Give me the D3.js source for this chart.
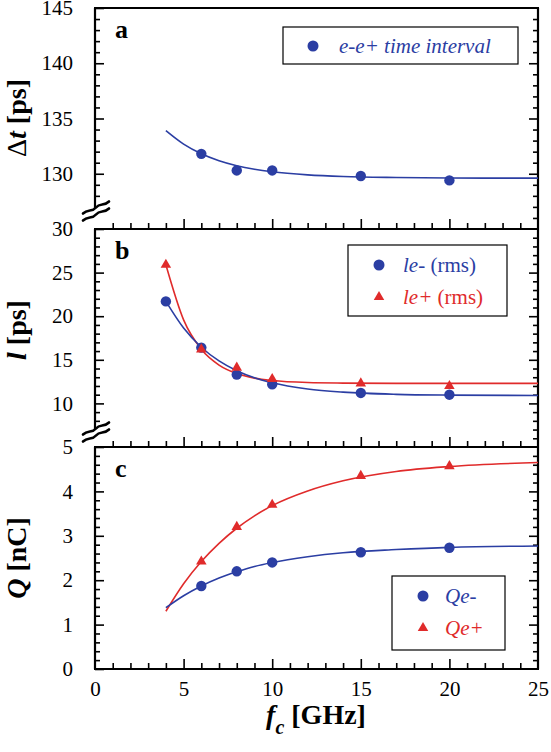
<!DOCTYPE html>
<html><head><meta charset="utf-8">
<script src="https://cdn.jsdelivr.net/npm/d3@7"></script>
<style>body{margin:0;background:#fff} svg{display:block}</style>
</head><body>
<svg id="chart" width="551" height="752"></svg>
<script>
// ---------- data ----------
const fitX = [4,5,6,7,8,9,10,12,14,17,20,25];

const dtX = [6,8,10,15,20];
const dtValues = [131.8,130.3,130.3,129.8,129.4];
const dtFit = [133.9,132.68,131.81,131.18,130.73,130.41,130.18,129.90,129.75,129.66,129.62,129.60];

const leX = [4,6,8,10,15,20];
const leMinus = [21.7,16.4,13.3,12.2,11.2,11.0];
const lePlus = [25.9,16.2,14.1,12.8,12.3,12.0];
const leMinusFit = [21.7,18.64,16.44,14.87,13.75,12.94,12.36,11.65,11.29,11.04,10.95,10.9];
const lePlusFit = [25.9,19.58,16.20,14.39,13.42,12.90,12.62,12.39,12.33,12.30,12.30,12.30];

const qX = [6,8,10,15,20];
const qMinus = [1.87,2.2,2.4,2.63,2.73];
const qPlus = [2.42,3.2,3.7,4.35,4.57];
const qMinusFit = [1.38,1.65,1.87,2.05,2.19,2.31,2.40,2.53,2.62,2.69,2.74,2.77];
const qPlusFit = [1.3,1.92,2.42,2.83,3.17,3.45,3.68,4.01,4.24,4.45,4.56,4.65];

const xTicksMajor = [0,5,10,15,20,25];
const aTicksMajor = [130,135,140,145];
const bTicksMajor = [10,15,20,25,30];
const cTicksMajor = [0,1,2,3,4,5];

// ---------- layout ----------
const BLUE = "#2b3ea3", RED = "#e02b2b";
const FONT = "Liberation Serif";
const L = 95, R = 538;
const svg = d3.select("#chart");

const x = d3.scaleLinear().domain([0,25]).range([L,R]);
const xMinor = d3.range(0,26,1);

const panels = [
  {key:"a", top:8,   bottom:229, domain:[125,145], major:aTicksMajor, minorStep:1, brk:211, label:"a"},
  {key:"b", top:229, bottom:447, domain:[5,30],    major:bTicksMajor, minorStep:1, brk:432, label:"b"},
  {key:"c", top:447, bottom:669, domain:[0,5],     major:cTicksMajor, minorStep:0.2, brk:null, label:"c"}
];
panels.forEach(p => {
  p.y = d3.scaleLinear().domain(p.domain).range([p.bottom, p.top]);
});

function axisStyle(g){
  g.attr("font-family", FONT).attr("font-size", 21);
  g.select(".domain").remove();
  g.selectAll(".tick line").attr("stroke","#000").attr("stroke-width",1.6);
  g.selectAll(".tick text").attr("font-family", FONT).attr("font-size",21).attr("fill","#000");
}

panels.forEach(p => {
  const lo = p.domain[0], hi = p.domain[1];
  const minor = d3.range(lo, hi + 1e-9, p.minorStep).map(v => +v.toFixed(3))
     .filter(v => !p.major.some(m => Math.abs(m - v) < 1e-6));
  const leftLimit = p.brk ? p.brk - 5 : p.bottom;
  const minorLeft = minor.filter(v => p.y(v) < leftLimit && p.y(v) > p.top + 1);
  const minorRight = minor.filter(v => p.y(v) < p.bottom - 1 && p.y(v) > p.top + 1);

  svg.append("g").attr("transform",`translate(${L},0)`)
    .call(d3.axisLeft(p.y).tickValues(minorLeft).tickSize(-5).tickFormat(""))
    .call(axisStyle);
  svg.append("g").attr("transform",`translate(${L},0)`)
    .call(d3.axisLeft(p.y).tickValues(p.major).tickSize(-9).tickPadding(22).tickFormat(d3.format("d")))
    .call(axisStyle);
  svg.append("g").attr("transform",`translate(${R},0)`)
    .call(d3.axisRight(p.y).tickValues(minorRight).tickSize(-5).tickFormat(""))
    .call(axisStyle);
  svg.append("g").attr("transform",`translate(${R},0)`)
    .call(d3.axisRight(p.y).tickValues(p.major.filter(v => p.y(v) < p.bottom - 1 && p.y(v) > p.top + 1)).tickSize(-9).tickFormat(""))
    .call(axisStyle);
  svg.append("g").attr("transform",`translate(0,${p.bottom})`)
    .call(d3.axisBottom(x).tickValues(xMinor.filter(v => v % 5 !== 0)).tickSize(-6).tickFormat(""))
    .call(axisStyle);
  if (p.key === "c") {
    svg.append("g").attr("transform",`translate(0,${p.bottom})`)
      .call(d3.axisBottom(x).tickValues(xTicksMajor).tickSize(0).tickPadding(12).tickFormat(d3.format("d")))
      .call(axisStyle);
  }
  svg.append("g").attr("transform",`translate(0,${p.bottom})`)
    .call(d3.axisBottom(x).tickValues(xTicksMajor.filter(v => v>0 && v<25)).tickSize(-10).tickFormat(""))
    .call(axisStyle);

  svg.append("line").attr("x1",L).attr("x2",L).attr("y1",p.top).attr("y2",leftLimit + (p.brk?2:0))
    .attr("stroke","#000").attr("stroke-width",2.2);
  svg.append("line").attr("x1",L-1).attr("x2",R+1).attr("y1",p.bottom).attr("y2",p.bottom)
    .attr("stroke","#000").attr("stroke-width",2.2);

  if (p.brk) {
    const g = svg.append("g").attr("transform",`translate(${L+1},${p.brk})`);
    [-3.5, 3.5].forEach(off => {
      g.append("path")
        .attr("d",`M-13,${6+off} C-8,${1+off} -4,${5+off} 0,${0+off} C4,${-5+off} 8,${-1+off} 13,${-6+off}`)
        .attr("fill","none").attr("stroke","#000").attr("stroke-width",2.6).attr("stroke-linecap","round");
    });
  }

  svg.append("text").attr("x",115).attr("y",p.top+30).text(p.label)
    .attr("font-family",FONT).attr("font-weight","bold").attr("font-size",26);
});

svg.append("line").attr("x1",L-1).attr("x2",R+1).attr("y1",8).attr("y2",8).attr("stroke","#000").attr("stroke-width",2.2);
svg.append("line").attr("x1",R).attr("x2",R).attr("y1",8).attr("y2",669).attr("stroke","#000").attr("stroke-width",2.2);

// ---------- data marks ----------
const pa = panels[0], pb = panels[1], pc = panels[2];
function curve(p, xs, ys, color){
  svg.append("path")
    .datum(xs.map((v,i)=>[v, ys[i]]))
    .attr("d", d3.line().x(d=>x(d[0])).y(d=>p.y(d[1])).curve(d3.curveMonotoneX))
    .attr("fill","none").attr("stroke",color).attr("stroke-width",1.6);
}
function dots(p, xs, ys, color){
  svg.append("g").selectAll("circle").data(xs.map((v,i)=>[v,ys[i]])).join("circle")
    .attr("cx",d=>x(d[0])).attr("cy",d=>p.y(d[1])).attr("r",5.2).attr("fill",color);
}
const tri = d3.symbol().type(d3.symbolTriangle).size(48);
function tris(p, xs, ys, color){
  svg.append("g").selectAll("path").data(xs.map((v,i)=>[v,ys[i]])).join("path")
    .attr("transform",d=>`translate(${x(d[0])},${p.y(d[1])})`).attr("d",tri).attr("fill",color);
}

curve(pa, fitX, dtFit, BLUE);
dots(pa, dtX, dtValues, BLUE);

curve(pb, fitX, lePlusFit, RED);
curve(pb, fitX, leMinusFit, BLUE);
dots(pb, leX, leMinus, BLUE);
tris(pb, leX, lePlus, RED);

curve(pc, fitX, qPlusFit, RED);
curve(pc, fitX, qMinusFit, BLUE);
dots(pc, qX, qMinus, BLUE);
tris(pc, qX, qPlus, RED);

// ---------- legends ----------
function box(x0,y0,x1,y1){
  svg.append("rect").attr("x",x0).attr("y",y0).attr("width",x1-x0).attr("height",y1-y0)
    .attr("fill","#fff").attr("stroke","#000").attr("stroke-width",1.2);
}
function legText(xp, yp, parts, color){
  const t = svg.append("text").attr("x",xp).attr("y",yp).attr("font-family",FONT).attr("font-size",21).attr("fill",color);
  parts.forEach(([s,it]) => t.append("tspan").text(s).attr("font-style", it ? "italic" : "normal"));
}
box(283,27,518,64);
svg.append("circle").attr("cx",313).attr("cy",46).attr("r",5.5).attr("fill",BLUE);
legText(339,53,[["e-e+ time interval",true]],BLUE);

box(348,245,507,316);
svg.append("circle").attr("cx",379).attr("cy",265).attr("r",5.5).attr("fill",BLUE);
legText(403,272,[["le-",true],[" (rms)",false]],BLUE);
svg.append("path").attr("transform","translate(379,297)").attr("d",tri).attr("fill",RED);
legText(403,304,[["le+",true],[" (rms)",false]],RED);

box(392,576,505,650);
svg.append("circle").attr("cx",423).attr("cy",596).attr("r",5.5).attr("fill",BLUE);
legText(445,603,[["Qe-",true]],BLUE);
svg.append("path").attr("transform","translate(423,628)").attr("d",tri).attr("fill",RED);
legText(445,635,[["Qe+",true]],RED);

// ---------- axis titles ----------
function yTitle(cy, parts){
  const t = svg.append("text").attr("transform",`translate(26,${cy}) rotate(-90)`)
    .attr("text-anchor","middle").attr("font-family",FONT).attr("font-size",28).attr("font-weight","bold");
  parts.forEach(([s,style,weight]) => t.append("tspan").text(s).attr("font-style",style).attr("font-weight",weight));
}
yTitle(118, [["Δ","normal","normal"],["t","italic","bold"],[" [ps]","normal","bold"]]);
yTitle(330, [["l","italic","bold"],[" [ps]","normal","bold"]]);
yTitle(558, [["Q","italic","bold"],[" [nC]","normal","bold"]]);

const xt = svg.append("text").attr("x",316).attr("y",724).attr("text-anchor","middle")
  .attr("font-family",FONT).attr("font-size",28).attr("font-weight","bold");
xt.append("tspan").text("f").attr("font-style","italic");
xt.append("tspan").text("c").attr("font-style","italic").attr("font-size",20).attr("dy",10);
xt.append("tspan").text(" [GHz]").attr("dy",-10);
</script>
</body></html>
